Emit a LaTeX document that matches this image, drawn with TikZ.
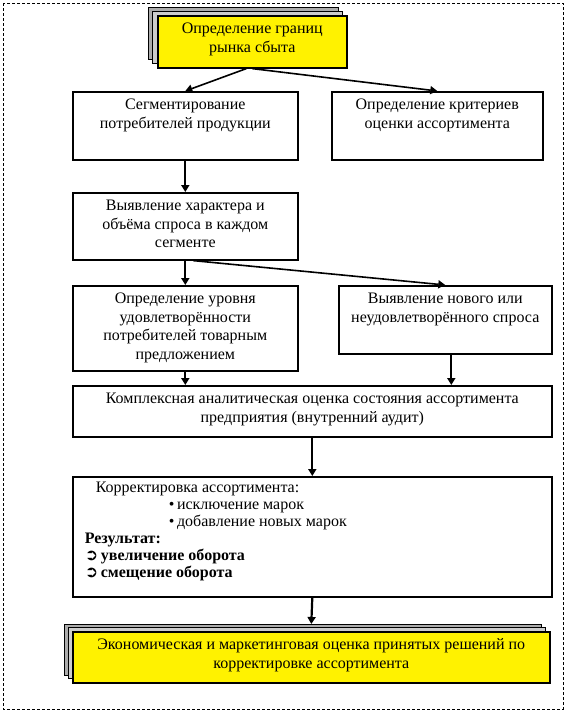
\documentclass[tikz,border=0pt]{standalone}
\usepackage{fontspec}
\setmainfont{Liberation Serif}
\newfontfamily\symfont{DejaVu Sans}
\usetikzlibrary{arrows.meta}
\tikzset{
	blok/.style={draw=black, line width=1.6pt, fill=white, inner sep=0pt, anchor=north west},
	zheltyj/.style={blok, fill=yellow},
	ten/.style={draw=black, line width=0.8pt, fill=gray!65},
	strelka/.style={-{Triangle[length=7pt,width=8pt]}, line width=2.2pt}
}
\newcommand{\vnutri}[3]{\parbox[c][#2][t]{#1}{\centering\vspace*{5pt}\strut #3\par}}

\begin{document}
\begin{tikzpicture}[x=1pt, y=-1pt, font=\fontsize{16}{18.5}\selectfont]
	\useasboundingbox (0,0) rectangle (566,713);
	\draw[dash pattern=on 3pt off 2pt, line width=0.8pt] (3,3) rectangle (563,709);
	
	% тени жёлтых блоков
	\draw[ten] (148,7) rectangle (338,59);
	\draw[ten, fill=gray!40] (152,11) rectangle (342,63);
	\draw[ten] (64,624) rectangle (541,675);
	\draw[ten, fill=gray!40] (68,627.5) rectangle (545,678.5);
	
	\node[zheltyj] (granicy) at (157,15) {\vnutri{189pt}{52pt}{Определение границ\\рынка сбыта}};
	\node[blok] (segment) at (72,91) {\vnutri{225pt}{68pt}{Сегментирование\\потребителей продукции}};
	\node[blok] (kriterii) at (331,91) {\vnutri{211pt}{68pt}{Определение критериев\\оценки ассортимента}};
	\node[blok] (spros) at (72,192) {\vnutri{225pt}{67pt}{Выявление характера и\\объёма спроса в каждом\\сегменте}};
	\node[blok] (uroven) at (72,285) {\vnutri{225pt}{85pt}{Определение уровня\\удовлетворённости\\потребителей товарным\\предложением}};
	\node[blok] (novyj) at (338,285) {\vnutri{213pt}{68pt}{Выявление нового или\\неудовлетворённого спроса}};
	\node[blok] (audit) at (72,385) {\vnutri{479pt}{51pt}{Комплексная аналитическая оценка состояния ассортимента\\предприятия (внутренний аудит)}};
	\node[blok] (korr) at (72,476) {\parbox[c][120pt][t]{479pt}{\fontsize{16}{17}\selectfont\raggedright\vspace*{4pt}
		\hspace*{23pt}\strut Корректировка ассортимента:\\
		\hspace*{96pt}\textbullet\,исключение марок\\
		\hspace*{96pt}\textbullet\,добавление новых марок\\
		\hspace*{12pt}\textbf{Результат:}\\
		\hspace*{12pt}{\symfont ➲}\,\textbf{увеличение оборота}\\
		\hspace*{12pt}{\symfont ➲}\,\textbf{смещение оборота}\par}};
	\node[zheltyj] (ocenka) at (72,631) {\vnutri{477pt}{51pt}{Экономическая и маркетинговая оценка принятых решений по\\корректировке ассортимента}};
	
	% стрелки
	\draw[strelka, line width=1.6pt] ([xshift=-6pt]granicy.south) -- (segment.north);
	\draw[strelka, line width=1.6pt] (granicy.south) -- (kriterii.north);
	\draw[strelka] (segment.south) -- (spros.north);
	\draw[strelka] (spros.south) -- (uroven.north);
	\draw[strelka, line width=1.6pt] ([xshift=8pt]spros.south) -- (novyj.north);
	\draw[strelka] (uroven.south) -- (uroven.south |- audit.north);
	\draw[strelka] ([xshift=6pt]novyj.south) -- ([xshift=6pt]novyj.south |- audit.north);
	\draw[strelka] (audit.south) -- (korr.north);
	\draw[strelka] (korr.south) -- ([yshift=7pt]ocenka.north);

\end{tikzpicture}
\end{document}
